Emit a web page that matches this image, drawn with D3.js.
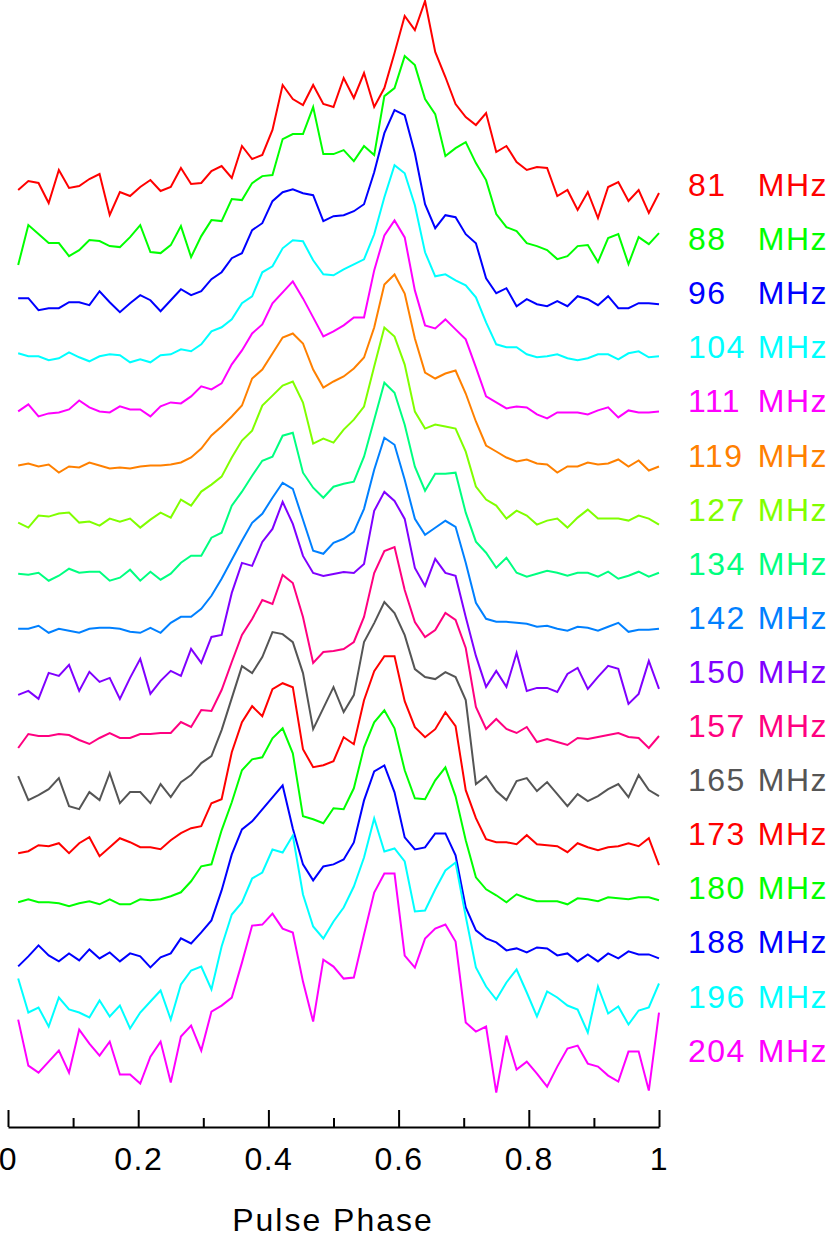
<!DOCTYPE html>
<html>
<head>
<meta charset="utf-8">
<script src="https://cdn.jsdelivr.net/npm/d3@7"></script>
<style>
  html, body { margin: 0; padding: 0; background: #fff; }
  svg { display: block; }
  text { font-family: "Liberation Sans", Arial, sans-serif; }
</style>
</head>
<body>
<svg id="chart" width="830" height="1240"></svg>
<script>
// Frequencies (MHz) and colours, top to bottom
const freqs  = [81, 88, 96, 104, 111, 119, 127, 134, 142, 150, 157, 165, 173, 180, 188, 196, 204];
const colors = ["#ff0000","#00ff00","#0000ff","#00ffff","#ff00ff","#ff8000","#80ff00","#00ff80",
                "#0080ff","#8000ff","#ff0080","#555555","#ff0000","#00ff00","#0000ff","#00ffff","#ff00ff"];

// Pulse profiles, 64 phase bins each (relative intensity, arbitrary units)
const p81  = [-5,4,2,-18,15,-3,-1,6,11,-30,-7,-11,-2,5,-6,-2,17,1,2,14,19,7,39,26,30,55,100,86,80,100,81,78,
              107,87,112,78,97,132,169,155,184,133,108,81,68,60,72,33,39,23,15,18,17,-11,-5,-25,-7,-33,-2,3,-16,-5,-28,-8];
const p88  = [-26,14,5,-4,-4,-17,-11,-1,-2,-7,-8,2,14,-13,-14,-6,13,-18,3,19,18,40,39,56,63,64,100,105,105,132,85,85,
              89,78,93,84,143,151,183,174,140,125,83,91,97,76,59,25,12,8,-4,-7,-11,-20,-17,-7,-6,-23,1,5,-25,2,-5,6];
const p96  = [-5,-5,-17,-15,-15,-9,-9,-12,2,-9,-19,-10,-2,-7,-18,-7,4,-2,2,14,21,35,40,63,70,92,101,104,100,98,72,77,
              78,82,89,121,160,183,178,140,89,65,78,76,59,50,15,0,5,-13,-6,-11,-13,-8,-13,-3,-6,-12,-3,-15,-15,-10,-10,-11];
const p104 = [-6,-9,-9,-13,-11,-5,-10,-14,-9,-7,-8,-15,-12,-15,-8,-7,-2,-4,3,16,20,28,44,51,75,81,99,107,106,87,73,72,
              78,83,88,113,150,182,174,142,95,71,73,67,62,50,25,3,0,0,-7,-10,-9,-7,-11,-13,-11,-7,-7,-12,-6,-4,-10,-9];
const p111 = [-10,-3,-15,-12,-11,-8,1,-6,-10,-11,-5,-8,-8,-15,-5,-1,-2,5,15,12,18,37,51,68,77,98,109,120,103,84,65,70,
              76,84,84,131,166,181,164,111,76,73,82,72,62,34,5,-1,-7,-5,-6,-13,-17,-11,-11,-11,-13,-9,-6,-16,-9,-11,-11,-10];
const p119 = [-10,-8,-11,-9,-17,-11,-12,-7,-10,-13,-12,-13,-11,-10,-10,-9,-7,-2,7,20,29,39,50,77,86,102,118,122,112,86,68,74,
              79,87,98,128,171,181,162,117,83,77,82,85,62,34,10,4,-2,-6,-4,-8,-9,-17,-11,-11,-7,-9,-8,-4,-11,-5,-15,-11];
const p127 = [-13,-18,-6,-7,-4,-3,-13,-12,-16,-9,-12,-9,-18,-10,-3,-8,10,4,18,25,33,52,69,79,104,114,124,128,107,66,71,67,
              80,90,103,143,182,173,145,98,81,85,83,81,58,23,10,4,-9,-1,-6,-15,-11,-9,-18,-8,0,-9,-9,-9,-11,-6,-9,-15];
const p134 = [-10,-11,-9,-17,-12,-5,-9,-8,-8,-17,-14,-6,-17,-8,-16,-10,1,8,8,26,31,58,72,88,103,107,128,131,91,76,66,77,
              80,82,107,144,181,171,139,97,73,90,90,91,51,22,11,-4,6,-9,-13,-10,-7,-9,-12,-9,-9,-13,-8,-15,-12,-8,-13,-9];
const p142 = [-11,-11,-8,-15,-11,-13,-15,-11,-10,-10,-11,-14,-15,-10,-15,-5,1,1,9,22,39,58,77,95,104,120,135,129,98,67,64,75,
              79,86,109,148,180,173,138,99,83,90,97,91,55,15,-1,-4,-4,-5,-6,-9,-8,-11,-13,-9,-10,-13,-9,-5,-14,-12,-12,-11];
const p150 = [-23,-19,-27,-1,-4,7,-19,0,-10,-6,-27,-6,13,-22,-9,1,-4,23,9,35,37,79,109,106,130,143,170,148,116,99,96,98,
              100,99,108,161,180,171,153,104,86,113,99,96,55,16,-15,1,-15,19,-19,-16,-16,-20,-2,4,-17,-5,6,3,-32,-22,11,-17];
const p157 = [-22,-8,-10,-10,-8,-9,-14,-18,-12,-7,-12,-12,-8,-8,-7,-7,4,-1,16,15,36,64,91,107,126,122,151,143,109,63,74,75,
              77,84,109,153,175,179,136,104,89,96,113,106,78,19,-3,7,-3,-7,-1,-16,-13,-16,-19,-12,-13,-11,-9,-7,-11,-12,-22,-10];
const p165 = [4,-20,-15,-9,2,-26,-29,-12,-20,7,-23,-12,-12,-23,-4,-17,-2,5,17,24,50,82,114,107,123,148,146,138,107,51,72,93,
              68,85,138,157,178,167,145,111,103,101,108,103,80,-4,4,-11,-20,-1,2,-11,-2,-14,-26,-14,-21,-16,-9,-4,-17,5,-10,-16];
const p173 = [-19,-17,-11,-12,-9,-19,-9,-3,-22,-13,-4,-8,-13,-13,-15,-6,1,6,8,31,35,82,112,128,118,145,151,147,85,67,69,73,
              97,90,134,163,178,178,133,107,97,105,122,108,44,16,-5,-8,-8,-10,-1,-10,-11,-12,-18,-9,-13,-16,-13,-12,-9,-12,-4,-31];
const p180 = [-14,-11,-14,-14,-15,-18,-15,-13,-16,-11,-16,-16,-11,-12,-11,-8,-4,7,22,24,58,86,118,129,131,150,160,135,72,69,65,80,
              79,100,141,166,178,160,118,90,89,108,121,92,48,11,-1,-7,-14,-6,-10,-13,-13,-13,-16,-10,-11,-13,-9,-10,-11,-9,-9,-12];
const p188 = [-24,-14,-3,-13,-19,-11,-18,-7,-16,-10,-19,-11,-14,-25,-15,-11,4,-1,10,22,52,88,113,121,133,145,157,114,78,62,76,78,
              83,100,142,171,177,150,105,93,95,109,109,87,35,12,4,0,-8,-6,-10,-5,-6,-13,-11,-19,-12,-19,-11,-16,-9,-12,-12,-16];
const p196 = [18,-16,-11,-30,-1,-13,-16,-21,-4,-20,-9,-32,-16,-5,6,-23,12,26,30,7,50,82,94,118,124,147,144,161,102,70,58,75,
              89,110,139,178,145,148,135,85,86,107,126,134,80,29,10,-3,14,27,4,-20,5,-1,-9,-13,-36,10,-17,-10,-28,-14,-11,13];
const p204 = [31,-15,-22,-11,0,-22,21,7,-5,9,-24,-24,-33,-6,9,-32,14,25,0,39,45,53,88,125,126,137,122,118,69,29,91,84,
              72,73,116,158,177,177,95,83,112,122,126,109,28,19,24,-42,15,-19,-11,-23,-36,-16,2,5,-13,-16,-25,-31,-1,-1,-40,38];

const profileValues = [p81,p88,p96,p104,p111,p119,p127,p134,p142,p150,p157,p165,p173,p180,p188,p196,p204];

// Axis ticks
const majorTicks = [0, 0.2, 0.4, 0.6, 0.8, 1];
const minorTicks = [0.1, 0.3, 0.5, 0.7, 0.9];
const majorLabels = ["0", "0.2", "0.4", "0.6", "0.8", "1"];
const xTitle = "Pulse Phase";

const nBins = 64;
const profiles = freqs.map((f, k) => ({
  freq: f, color: colors[k], index: k,
  points: profileValues[k].map((v, i) => ({ phase: (i + 1) / nBins, value: v }))
}));

const svg = d3.select("#chart");

const x = d3.scaleLinear().domain([0, 1]).range([8, 659]);
const offset = d3.scaleLinear().domain([0, freqs.length - 1]).range([185, 1050.6]);
const amp = d3.scaleLinear().domain([0, 100]).range([0, -100]);

const line = d3.line()
  .x(d => x(d.phase))
  .y(d => d.base + amp(d.value));

const g = svg.append("g");
g.selectAll("path.profile")
  .data(profiles)
  .join("path")
  .attr("class", "profile")
  .attr("fill", "none")
  .attr("stroke", d => d.color)
  .attr("stroke-width", 2)
  .attr("stroke-linejoin", "miter")
  .attr("d", d => line(d.points.map(p => ({ ...p, base: offset(d.index) }))));

// Labels
const lab = svg.append("g").attr("font-size", 32).attr("letter-spacing", 1.5);
lab.selectAll("text.num")
  .data(profiles)
  .join("text")
  .attr("class", "num")
  .attr("x", 688)
  .attr("y", d => offset(d.index) + 11)
  .attr("fill", d => d.color)
  .text(d => d.freq);
lab.selectAll("text.unit")
  .data(profiles)
  .join("text")
  .attr("class", "unit")
  .attr("x", 828)
  .attr("y", d => offset(d.index) + 11)
  .attr("text-anchor", "end")
  .attr("fill", d => d.color)
  .text("MHz");

// X axis
const axisY = 1127;
const axG = svg.append("g").attr("transform", `translate(0,${axisY})`);
axG.call(d3.axisBottom(x)
  .tickValues(majorTicks)
  .tickSizeInner(-17)
  .tickSizeOuter(0)
  .tickPadding(20)
  .tickFormat((d, i) => majorLabels[i]));
const minG = svg.append("g").attr("transform", `translate(0,${axisY})`);
minG.call(d3.axisBottom(x)
  .tickValues(minorTicks)
  .tickSizeInner(-9)
  .tickSizeOuter(0)
  .tickFormat(""));
minG.select(".domain").remove();
svg.selectAll(".domain, .tick line").attr("stroke", "#000").attr("stroke-width", 2);
axG.selectAll(".tick text")
  .attr("font-size", 32)
  .attr("letter-spacing", 1.5)
  .attr("font-family", "Liberation Sans, Arial, sans-serif")
  .attr("fill", "#000");

svg.append("text")
  .attr("x", 333)
  .attr("y", 1231)
  .attr("text-anchor", "middle")
  .attr("font-size", 32)
  .attr("letter-spacing", 2)
  .attr("fill", "#000")
  .text(xTitle);
</script>
</body>
</html>
